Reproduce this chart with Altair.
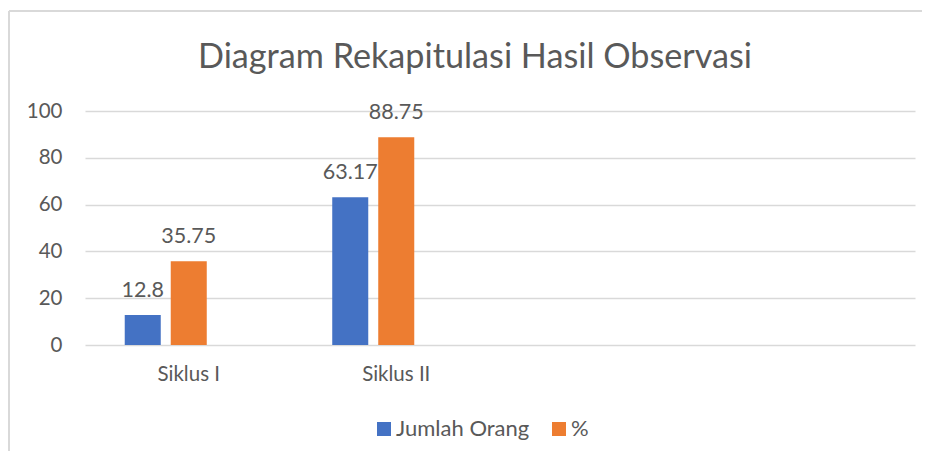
import altair as alt
import pandas as pd

categories = ["Siklus I", "Siklus II"]
series_names = ["Jumlah Orang", "%"]
jumlah_orang = [12.8, 63.17]
persen = [35.75, 88.75]
y_ticks = [0, 20, 40, 60, 80, 100]

rows = []
for i, c in enumerate(categories):
    rows.append({"category": c, "series": series_names[0], "value": jumlah_orang[i]})
    rows.append({"category": c, "series": series_names[1], "value": persen[i]})
df = pd.DataFrame(rows)

FONT = "Lato"
TXT = "#595959"
GRID = "#D9D9D9"

x_domain = categories + ["_3", "_4"]
offset_domain = series_names + ["_blank"]

x_enc = alt.X(
    "category:N",
    scale=alt.Scale(domain=x_domain, paddingInner=0.383, paddingOuter=0.1915),
    sort=x_domain,
    axis=alt.Axis(
        title=None, labelAngle=0, ticks=False, domain=False, grid=False,
        labelFont=FONT, labelFontSize=20.5, labelColor=TXT, labelPadding=19,
        labelExpr="indexof(datum.value, '_') == 0 ? '' : datum.value",
    ),
)
xoff_enc = alt.XOffset(
    "series:N",
    scale=alt.Scale(domain=offset_domain, paddingInner=0.217, paddingOuter=0),
)
y_enc = alt.Y(
    "value:Q",
    scale=alt.Scale(domain=[0, 100], nice=False),
    axis=alt.Axis(
        title=None, values=y_ticks, ticks=False, domain=False,
        grid=True, gridColor=GRID, gridWidth=1.3,
        labelFont=FONT, labelFontSize=20.5, labelColor=TXT, labelPadding=23,
    ),
)
color_enc = alt.Color(
    "series:N",
    scale=alt.Scale(domain=series_names, range=["#4472C4", "#ED7D31"]),
    legend=alt.Legend(
        title=None, orient="none", legendX=288, legendY=307, direction="horizontal",
        symbolType="square", symbolSize=196, symbolStrokeWidth=0, symbolOpacity=1,
        labelFont=FONT, labelFontSize=22, labelColor=TXT, labelOffset=1,
        columnPadding=18, padding=0,
    ),
)

bars = alt.Chart(df).mark_bar().encode(
    x=x_enc, xOffset=xoff_enc, y=y_enc, color=color_enc
)
labels = alt.Chart(df).mark_text(
    baseline="alphabetic", dy=-18, font=FONT, fontSize=21.5, color=TXT
).encode(
    x=x_enc, xOffset=xoff_enc, y=y_enc, text=alt.Text("value:Q")
)

frame_left = alt.Chart(df).mark_rule(color=GRID, strokeWidth=1.5).encode(
    x=alt.value(-76), y=alt.value(-100), y2=alt.value(400)
)
frame_top = alt.Chart(df).mark_rule(color=GRID, strokeWidth=1.5).encode(
    x=alt.value(-76), x2=alt.value(900), y=alt.value(-100)
)

chart = alt.layer(frame_left, frame_top, bars, labels).properties(
    width=830,
    height=234,
    autosize=alt.AutoSizeParams(type="none"),
    padding={"left": 77, "top": 103, "right": 7, "bottom": 106},
    title=alt.TitleParams(
        "Diagram Rekapitulasi Hasil Observasi",
        font=FONT, fontSize=34.2, fontWeight="normal", color=TXT,
        anchor="middle", dx=-25, dy=65, offset=0,
    ),
).configure_view(stroke=None)

chart.save("out.html", embed_options={"renderer": "svg", "actions": False})
